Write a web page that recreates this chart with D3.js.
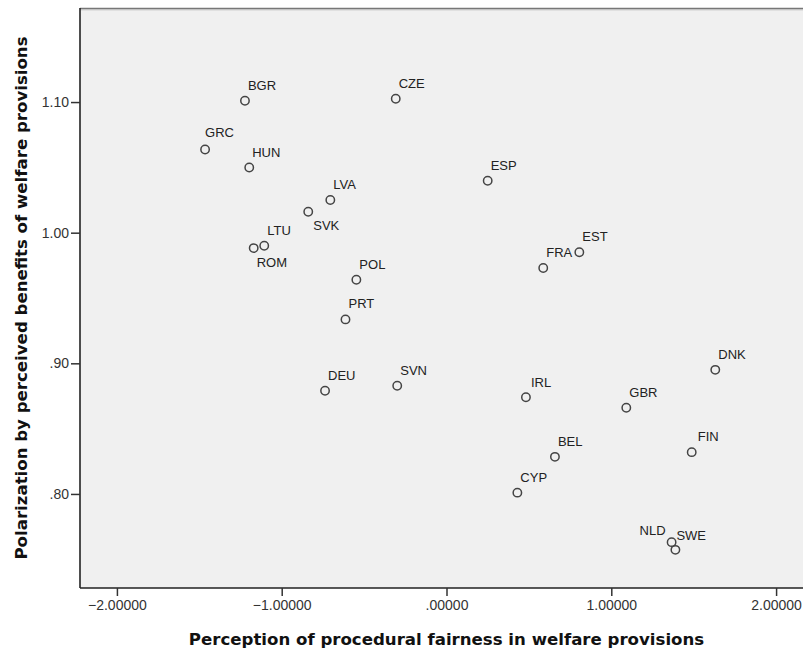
<!DOCTYPE html>
<html>
<head>
<meta charset="utf-8">
<script src="https://cdn.jsdelivr.net/npm/d3@7"></script>
<style>
    body { margin: 0; background: #fff; }
    svg { display: block; font-family: Arial, "Liberation Sans", sans-serif; }
</style>
</head>
<body>
<svg id="chart" width="803" height="650"></svg>
<script>
// Data (country, procedural fairness, polarization)
var countries = ['BGR', 'GRC', 'HUN', 'CZE', 'LVA', 'SVK', 'LTU', 'ROM', 'POL', 'PRT',
                 'DEU', 'SVN', 'ESP', 'EST', 'FRA', 'IRL', 'GBR', 'DNK', 'FIN', 'BEL',
                 'CYP', 'NLD', 'SWE'];
var fairness = [-1.223, -1.465, -1.197, -0.308, -0.705, -0.839, -1.106, -1.170, -0.547, -0.613,
                -0.737, -0.299, 0.250, 0.806, 0.587, 0.482, 1.091, 1.631, 1.488, 0.658,
                0.430, 1.366, 1.389];
var polarization = [1.101, 1.0637, 1.0499, 1.1025, 1.025, 1.016, 0.990, 0.9882, 0.964, 0.9336,
                    0.879, 0.8828, 1.0397, 0.985, 0.973, 0.874, 0.866, 0.895, 0.832, 0.8284,
                    0.801, 0.7631, 0.7572];
var xTicks = [-2, -1, 0, 1, 2];
var yTicks = [0.80, 0.90, 1.00, 1.10];

// Label placement (SPSS puts most labels above-right of the marker)
var labelDefault = { dx: 3, dy: -11, anchor: 'start' };
var labelExceptions = {
    SVK: { dx: 5, dy: 18, anchor: 'start' },
    ROM: { dx: 3, dy: 19, anchor: 'start' },
    NLD: { dx: -6, dy: -7, anchor: 'end' },
    FIN: { dx: 6, dy: -11, anchor: 'start' },
    IRL: { dx: 5, dy: -10, anchor: 'start' },
    SWE: { dx: 1, dy: -10, anchor: 'start' },
    GRC: { dx: 0, dy: -12, anchor: 'start' }
};

var margin = { left: 80, top: 8, right: 813, bottom: 588 };
var titleFont = '"DejaVu Sans", Verdana, sans-serif';

var svg = d3.select('#chart');

var x = d3.scaleLinear().domain([-2.224, 2.224]).range([margin.left, margin.right]);
var y = d3.scaleLinear().domain([0.728, 1.172]).range([margin.bottom, margin.top]);

// strip leading zero like SPSS does (.90, .00000)
function spss(fmt) {
    var f = d3.format(fmt);
    return function(v) { return f(v).replace(/^(-?)0\./, '$1.'); };
}

// plot background + frame
svg.append('rect')
    .attr('x', margin.left).attr('y', margin.top)
    .attr('width', margin.right - margin.left)
    .attr('height', margin.bottom - margin.top)
    .attr('fill', '#f0f0f0');

svg.append('line')
    .attr('x1', margin.left).attr('x2', margin.right)
    .attr('y1', margin.top + 0.5).attr('y2', margin.top + 0.5)
    .attr('stroke', '#777').attr('stroke-width', 1.5);
svg.append('line')
    .attr('x1', margin.left).attr('x2', margin.right)
    .attr('y1', margin.top + 1.8).attr('y2', margin.top + 1.8)
    .attr('stroke', '#bbb').attr('stroke-width', 1);

// axes
var xAxis = svg.append('g')
    .attr('transform', 'translate(0,' + margin.bottom + ')')
    .call(d3.axisBottom(x).tickValues(xTicks).tickFormat(spss('.5f')).tickSizeOuter(0).tickSize(8).tickPadding(4));

var yAxis = svg.append('g')
    .attr('transform', 'translate(' + margin.left + ',0)')
    .call(d3.axisLeft(y).tickValues(yTicks).tickFormat(spss('.2f')).tickSizeOuter(0).tickSize(9).tickPadding(2));

[xAxis, yAxis].forEach(function(g) {
    g.select('.domain').attr('stroke', '#222').attr('stroke-width', 1.6);
    g.selectAll('.tick line').attr('stroke', '#333').attr('stroke-width', 1.5);
    g.selectAll('.tick text')
        .attr('fill', '#333')
        .style('font-size', '14px')
        .style('font-family', 'Arial, "Liberation Sans", sans-serif');
});
// extend the bottom domain line to the whole plot
xAxis.select('.domain').attr('d', 'M' + margin.left + ',0H' + margin.right);
yAxis.select('.domain').attr('d', 'M0,' + margin.top + 'V' + margin.bottom);

// points
var points = countries.map(function(c, i) {
    return { name: c, fx: fairness[i], py: polarization[i] };
});

svg.append('g').selectAll('circle')
    .data(points)
    .enter().append('circle')
    .attr('cx', function(d) { return x(d.fx); })
    .attr('cy', function(d) { return y(d.py); })
    .attr('r', 4.2)
    .attr('fill', 'none')
    .attr('stroke', '#444')
    .attr('stroke-width', 1.5);

svg.append('g').selectAll('text')
    .data(points)
    .enter().append('text')
    .attr('x', function(d) { return x(d.fx) + (labelExceptions[d.name] || labelDefault).dx; })
    .attr('y', function(d) { return y(d.py) + (labelExceptions[d.name] || labelDefault).dy; })
    .attr('text-anchor', function(d) { return (labelExceptions[d.name] || labelDefault).anchor; })
    .attr('fill', '#222')
    .style('font-size', '13px')
    .text(function(d) { return d.name; });

// axis titles
svg.append('text')
    .attr('x', (margin.left + margin.right) / 2)
    .attr('y', 645)
    .attr('text-anchor', 'middle')
    .attr('fill', '#111')
    .style('font-family', titleFont)
    .style('font-size', '16.6px')
    .style('font-weight', 'bold')
    .text('Perception of procedural fairness in welfare provisions');

svg.append('text')
    .attr('transform', 'translate(27,' + (margin.top + margin.bottom) / 2 + ') rotate(-90)')
    .attr('text-anchor', 'middle')
    .attr('fill', '#111')
    .style('font-family', titleFont)
    .style('font-size', '16.6px')
    .style('font-weight', 'bold')
    .text('Polarization by perceived benefits of welfare provisions');
</script>
</body>
</html>
